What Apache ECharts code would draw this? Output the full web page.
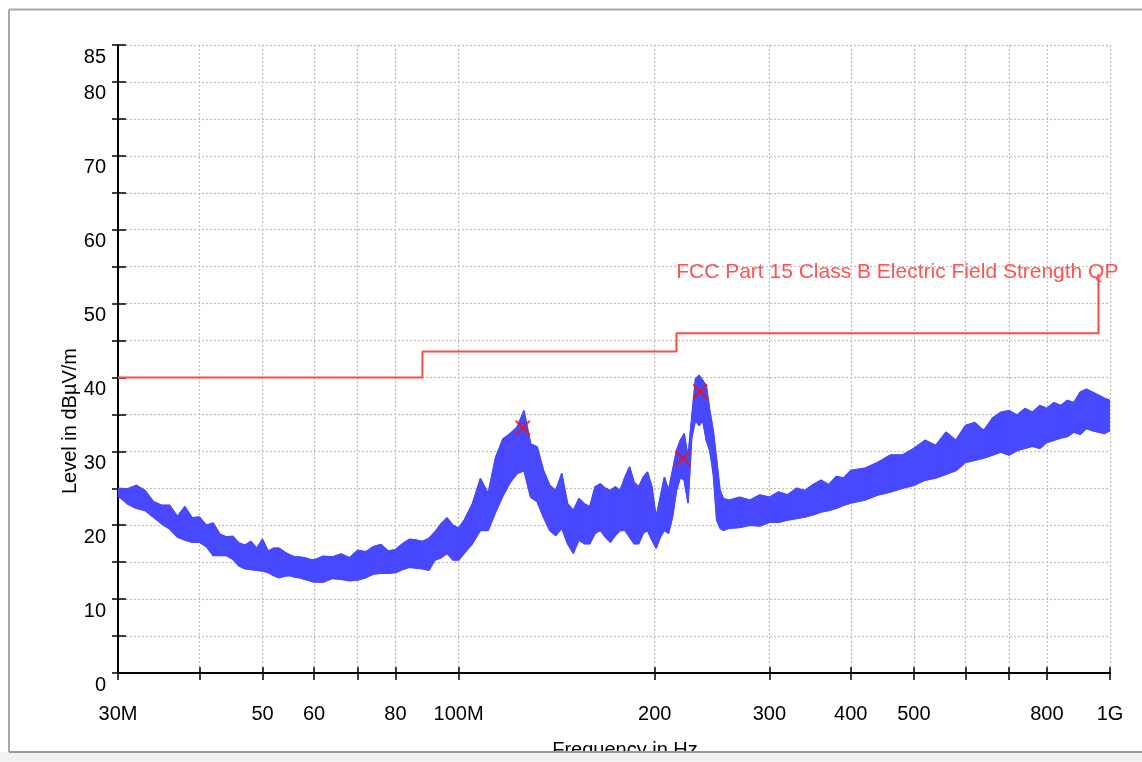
<!DOCTYPE html>
<html>
<head>
<meta charset="utf-8">
<script src="https://cdn.jsdelivr.net/npm/echarts@6/dist/echarts.min.js"></script>
<style>
html,body{margin:0;padding:0;background:#fff;}
#c{width:1142px;height:762px;}
</style>
</head>
<body>
<div id="c"></div>
<script>
// Frequency points (MHz) with upper / lower envelope of the measured trace (dBµV/m)
var freqs = [30,31,32,33,34,35,36,37,38,39,40,41,42,43,44,45,46,47,48,49,50,51,52,53,54,55,56,57,58,59,60,62,64,66,68,70,72,74,76,78,80,82,84,86,88,90,92,94,96,98,100,102,105,108,111,114,117,120,123,126,129,132,135,138,141,144,147,150,153,156,159,162,165,168,171,174,177,180,183,186,189,192,195,198,201,204,207,210,213,216,219,222,225,228,231,234,237,240,243,246,249,252,255,260,270,280,290,300,310,320,330,340,350,360,370,380,390,400,420,440,460,480,500,520,540,560,580,600,620,640,660,680,700,720,740,760,780,800,820,840,860,880,900,920,940,960,980,1000];
var traceHigh = [25.0,24.9,25.4,24.7,23.2,22.7,22.7,21.2,22.5,21.0,21.1,20.0,20.3,18.8,18.4,18.5,17.6,17.3,17.8,16.9,18.1,16.5,16.9,16.9,16.4,16.0,15.7,15.7,15.6,15.4,15.3,15.8,15.7,16.1,15.6,16.6,16.4,17.1,17.4,16.5,16.7,17.5,18.1,18.0,17.8,18.2,19.1,20.2,21.0,20.0,19.6,20.7,22.9,26.3,24.3,29.2,31.7,32.4,33.3,35.5,31.0,30.6,27.4,25.4,24.7,27.0,22.9,22.0,23.6,22.9,22.5,25.2,25.6,25.0,24.7,25.2,24.7,26.5,27.9,25.8,25.2,26.5,27.2,25.2,21.1,23.8,26.5,24.7,27.4,30.1,31.5,32.4,29.2,34.6,39.8,40.3,39.6,38.9,35.5,32.8,28.8,24.7,23.6,23.4,23.8,23.4,24.1,23.8,24.5,24.1,25.0,24.7,25.5,26.1,25.5,26.6,26.4,27.4,27.7,28.5,29.5,29.5,30.4,31.5,30.8,32.6,31.5,33.5,33.9,32.8,34.5,35.3,35.5,34.9,35.8,35.3,36.2,35.8,36.6,36.2,36.9,36.6,38.0,38.4,38.0,37.6,37.2,36.9];
var traceLow = [24.0,22.9,22.3,22.0,21.1,20.2,19.5,18.4,18.0,17.7,17.7,17.1,15.9,15.9,15.9,15.4,14.5,14.1,14.0,13.9,13.8,13.6,13.2,12.9,13.1,13.2,13.0,12.9,12.7,12.5,12.3,12.3,12.8,12.7,12.5,12.6,12.9,13.4,13.5,13.5,13.6,14.0,14.3,14.2,14.1,13.9,15.3,15.6,16.2,15.3,15.3,16.2,17.5,19.3,19.3,21.8,24.0,25.8,27.0,27.4,23.8,23.2,21.1,19.3,18.6,19.6,17.5,16.2,18.0,17.5,17.5,18.9,19.3,18.4,17.7,18.6,19.3,19.3,18.4,17.5,17.5,18.9,19.3,18.0,16.9,18.4,19.3,18.9,21.1,24.7,26.5,26.1,23.0,31.9,34.2,33.5,34.2,31.5,30.1,27.0,20.7,19.6,19.3,19.6,19.7,20.0,19.9,20.4,20.4,20.7,20.9,21.1,21.4,21.8,22.0,22.3,22.7,23.0,23.4,24.1,24.5,25.0,25.4,26.1,26.4,26.9,27.4,28.5,28.8,29.1,29.5,29.9,29.5,30.1,30.4,30.7,30.4,31.2,31.5,31.8,32.0,32.6,32.3,33.1,32.8,32.6,32.4,32.8];

// Limit line: FCC Part 15 Class B Electric Field Strength QP
var limitName = 'FCC Part 15 Class B Electric Field Strength QP';
var limitFreqs = [30, 88, 88, 216, 216, 960, 960];
var limitLevels = [40, 40, 43.5, 43.5, 46, 46, 54];

// Final measurement markers
var markFreqs = [125.5, 221, 234.9];
var markLevels = [33.2, 29.05, 38.1];

// Axis ticks
var xTickValues = [30,40,50,60,70,80,100,200,300,400,500,600,700,800,1000];
var xLabelValues = [30,50,60,80,100,200,300,400,500,800,1000];
var xLabelText = {30:'30M',100:'100M',1000:'1G'};
var yMin = 0, yMax = 85, yStep = 5;

// Band segments built from the envelope arrays
var bandData = [];
for (var i = 0; i < freqs.length - 1; i++) {
  bandData.push([freqs[i], traceHigh[i], traceLow[i], freqs[i+1], traceHigh[i+1], traceLow[i+1]]);
}
var highData = freqs.map(function(f,i){return [f, traceHigh[i]];});
var lowData = freqs.map(function(f,i){return [f, traceLow[i]];});
var limitData = limitFreqs.map(function(f,i){return [f, limitLevels[i]];});
var markData = markFreqs.map(function(f,i){return [f, markLevels[i]];});

var FONT = '"Liberation Sans", Arial, Helvetica, sans-serif';
var TRACE = '#4848ff';
var LIMIT = '#ff4a4a';

var gridPos = {left:118, right:32, top:45, bottom:89, containLabel:false, outerBoundsMode:'none'};

var chart = echarts.init(document.getElementById('c'), null, {renderer:'canvas'});
chart.setOption({
  animation:false,
  backgroundColor:'#ffffff',
  textStyle:{fontFamily:FONT},
  grid:[ Object.assign({}, gridPos), Object.assign({}, gridPos) ],
  xAxis:[{
    type:'log', logBase:10, min:30, max:1000, gridIndex:0, position:'bottom',
    name:'Frequency in Hz', nameLocation:'middle', nameGap:77, nameMoveOverlap:false,
    nameTextStyle:{fontSize:20, color:'#000', fontFamily:FONT, verticalAlign:'middle', padding:[0,0,0,22]},
    axisLine:{show:true, onZero:false, lineStyle:{color:'#000', width:2}},
    axisTick:{show:true, inside:false, length:7, customValues:xTickValues, lineStyle:{color:'#000', width:1.5}},
    minorTick:{show:false},
    axisLabel:{show:true, customValues:xLabelValues, margin:31, fontSize:20, color:'#000', fontFamily:FONT,
      formatter:function(v){ var r = Math.round(v); return xLabelText[r] || String(r); }},
    splitLine:{show:true, lineStyle:{color:'#bdbdbd', width:1.2, type:[2,2]}},
    minorSplitLine:{show:false}
  },{
    type:'log', logBase:10, min:30, max:1000, gridIndex:1, position:'bottom',
    axisLine:{show:false},
    axisTick:{show:true, inside:true, length:6, customValues:xTickValues, lineStyle:{color:'#000', width:1.5}},
    axisLabel:{show:false},
    splitLine:{show:false}
  }],
  yAxis:[{
    type:'value', min:yMin, max:yMax, interval:yStep, gridIndex:0, position:'left',
    name:'Level in dBµV/m', nameLocation:'middle', nameRotate:90, nameGap:48, nameMoveOverlap:false,
    nameTextStyle:{fontSize:20, color:'#000', fontFamily:FONT, verticalAlign:'middle', padding:[0,124,0,0]},
    axisLine:{show:true, onZero:false, lineStyle:{color:'#000', width:2}},
    axisTick:{show:true, inside:false, length:6, lineStyle:{color:'#000', width:1.5}},
    axisLabel:{show:true, margin:12, fontSize:20, lineHeight:24, color:'#000', fontFamily:FONT, verticalAlign:'top',
      formatter:function(v){ return (v%10===0 || v===yMax) ? String(v) : ''; }},
    splitLine:{show:true, lineStyle:{color:'#bdbdbd', width:1.2, type:[2,2]}}
  },{
    type:'value', min:yMin, max:yMax, interval:yStep, gridIndex:1, position:'left',
    axisLine:{show:false},
    axisTick:{show:true, inside:true, length:8, lineStyle:{color:'#000', width:1.5}},
    axisLabel:{show:false},
    splitLine:{show:false}
  }],
  series:[{
    type:'custom', name:'trace band', xAxisIndex:0, yAxisIndex:0, data:bandData, silent:true, z:2, clip:true,
    encode:{x:[0,3], y:[1,2,4,5]},
    renderItem:function(params, api){
      var p = [
        api.coord([api.value(0), api.value(1)]),
        api.coord([api.value(3), api.value(4)]),
        api.coord([api.value(3), api.value(5)]),
        api.coord([api.value(0), api.value(2)])
      ];
      return {type:'polygon', shape:{points:p}, style:{fill:TRACE, stroke:TRACE, lineWidth:1}};
    }
  },{
    type:'line', name:'high', xAxisIndex:0, yAxisIndex:0, data:highData,
    symbol:'none', lineStyle:{color:TRACE, width:1.5}, silent:true, z:2
  },{
    type:'line', name:'low', xAxisIndex:0, yAxisIndex:0, data:lowData,
    symbol:'none', lineStyle:{color:TRACE, width:1.5}, silent:true, z:2
  },{
    type:'line', name:limitName, xAxisIndex:0, yAxisIndex:0, data:limitData,
    symbol:'none', lineStyle:{color:LIMIT, width:2}, z:3,
    endLabel:{show:true, formatter:limitName, color:'#ff5252', fontSize:21, fontFamily:FONT,
      align:'right', verticalAlign:'middle', distance:0, offset:[20,-2]}
  },{
    type:'scatter', name:'markers', xAxisIndex:0, yAxisIndex:0, data:markData,
    symbol:'path://M0,0L10,10M10,0L0,10', symbolSize:14,
    itemStyle:{color:'rgba(0,0,0,0)', borderColor:'#f01010', borderWidth:2.2}, z:4
  }],
  graphic:[
    {type:'rect', z:100, silent:true, shape:{x:0, y:752, width:1142, height:10}, style:{fill:'#f2f2f2'}},
    {type:'line', z:101, silent:true, shape:{x1:9, y1:9.5, x2:1142, y2:9.5}, style:{stroke:'#a8a8a8', lineWidth:2}},
    {type:'line', z:101, silent:true, shape:{x1:9, y1:9.5, x2:9, y2:752}, style:{stroke:'#a8a8a8', lineWidth:2}},
    {type:'line', z:101, silent:true, shape:{x1:9, y1:752, x2:1142, y2:752}, style:{stroke:'#9a9a9a', lineWidth:2}}
  ]
});
</script>
</body>
</html>
